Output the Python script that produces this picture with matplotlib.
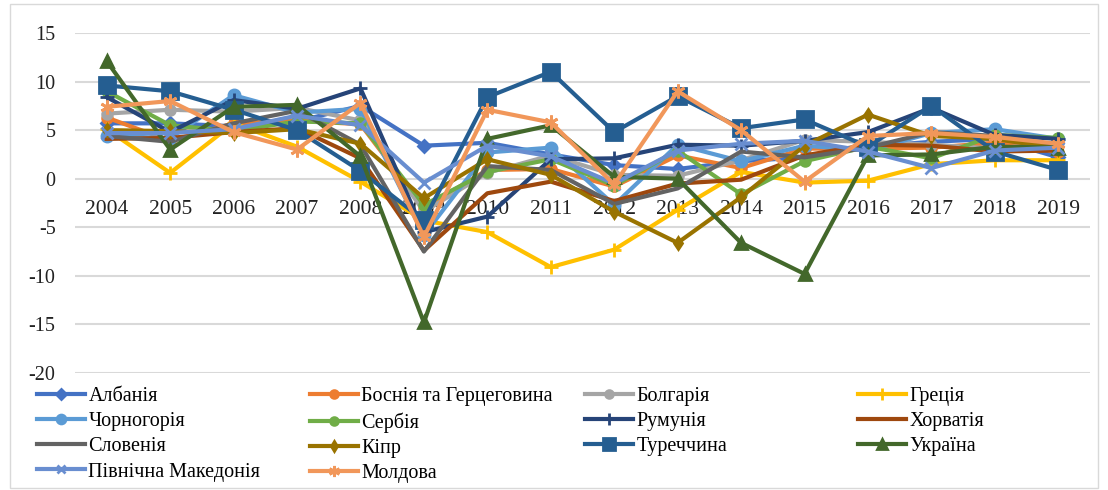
import numpy as np
import matplotlib
matplotlib.use("Agg")
import matplotlib.pyplot as plt
from matplotlib.patches import Rectangle

plt.rcParams["font.family"] = ["Liberation Serif", "DejaVu Serif"]
plt.rcParams["axes.unicode_minus"] = False

# GDP growth, %
years = [str(y) for y in range(2004, 2020)]

albania = [5.7, 5.7, 5.4, 5.9, 7.5, 3.4, 3.7, 2.5, 1.4, 1.0, 1.8, 2.2, 3.3, 3.8, 4.1, 2.2]
bosnia = [6.3, 3.9, 5.7, 6.0, 5.6, -3.0, 0.9, 1.0, -0.8, 2.4, 1.1, 3.1, 3.1, 3.2, 3.7, 2.8]
bulgaria = [6.7, 7.1, 6.9, 7.3, 6.0, -3.4, 0.6, 2.4, 0.4, 0.3, 1.9, 4.0, 3.8, 3.5, 3.1, 3.7]
greece = [5.1, 0.6, 5.7, 3.3, -0.3, -4.3, -5.5, -9.1, -7.3, -3.2, 0.7, -0.4, -0.2, 1.5, 1.9, 1.9]
montenegro = [4.4, 4.2, 8.6, 6.8, 7.2, -5.8, 2.7, 3.2, -2.7, 3.5, 1.8, 3.4, 2.9, 4.7, 5.1, 4.1]
serbia = [9.0, 5.5, 4.9, 5.9, 5.7, -2.7, 0.7, 2.0, -0.7, 2.9, -1.6, 1.8, 3.3, 2.1, 4.5, 4.2]
romania = [8.4, 4.8, 8.1, 7.2, 9.3, -5.5, -3.9, 2.0, 2.1, 3.5, 3.4, 3.9, 4.8, 7.3, 4.5, 4.1]
croatia = [4.1, 4.2, 4.8, 5.2, 2.1, -7.4, -1.5, -0.3, -2.3, -0.5, -0.1, 2.4, 3.5, 3.4, 2.8, 2.9]
slovenia = [4.4, 3.8, 5.7, 7.0, 3.5, -7.5, 1.3, 0.9, -2.6, -1.0, 2.8, 2.2, 3.2, 4.8, 4.4, 3.3]
cyprus = [5.0, 4.9, 4.7, 5.1, 3.6, -2.0, 2.0, 0.4, -3.4, -6.6, -1.9, 3.4, 6.6, 4.4, 4.1, 3.1]
turkey = [9.6, 9.0, 7.1, 5.0, 0.8, -4.3, 8.4, 11.0, 4.8, 8.5, 5.2, 6.1, 3.3, 7.5, 2.8, 0.9]
ukraine = [12.1, 3.0, 7.4, 7.6, 2.3, -14.8, 4.1, 5.5, 0.2, 0.0, -6.6, -9.8, 2.4, 2.5, 3.3, 3.2]
north_macedonia = [4.7, 4.7, 5.1, 6.5, 5.5, -0.4, 3.4, 2.3, -0.5, 2.9, 3.6, 3.9, 2.8, 1.1, 2.9, 3.2]
moldova = [7.4, 8.0, 4.8, 3.0, 7.8, -6.0, 7.1, 5.8, -0.6, 9.0, 5.0, -0.3, 4.4, 4.7, 4.3, 3.6]

# (label, values, colour, marker, marker size)
series = [
    ("Албанія", albania, "#4472C4", "D", 6),
    ("Боснія та Герцеговина", bosnia, "#ED7D31", "o", 7),
    ("Болгарія", bulgaria, "#A5A5A5", "o", 7),
    ("Греція", greece, "#FFC000", "+", 10),
    ("Чорногорія", montenegro, "#5B9BD5", "o", 8),
    ("Сербія", serbia, "#70AD47", "o", 7),
    ("Румунія", romania, "#264478", "+", 10),
    ("Хорватія", croatia, "#9E480E", "None", 0),
    ("Словенія", slovenia, "#636363", "None", 0),
    ("Кіпр", cyprus, "#997300", "d", 6),
    ("Туреччина", turkey, "#255E91", "s", 11),
    ("Україна", ukraine, "#43682B", "^", 9),
    ("Північна Македонія", north_macedonia, "#698ED0", "x", 8),
    ("Молдова", moldova, "#F1975A", (6, 2, 0), 10),
]

W, H = 1108, 490
fig = plt.figure(figsize=(W / 100, H / 100), dpi=100)
fig.patches.append(Rectangle((10 / W, 2 / H), 1088 / W, 484 / H, transform=fig.transFigure,
                             fill=False, edgecolor="#D9D9D9", linewidth=1))

ax = fig.add_axes([75 / W, 1 - 373 / H, (1090 - 75) / W, (373 - 33) / H])
x = np.arange(len(years))

handles = []
for label, vals, color, marker, ms in series:
    line, = ax.plot(x, vals, color=color, linewidth=3, marker=marker, markersize=ms,
                    markeredgewidth=2, markerfacecolor=color, markeredgecolor=color,
                    label=label, solid_joinstyle="round")
    handles.append(line)

ax.set_xlim(-0.5, len(years) - 0.5)
ax.set_ylim(-20, 15)
ax.set_yticks(range(-20, 16, 5))
ax.set_xticks(x)
ax.set_xticklabels(years)
ax.grid(axis="y", color="#D9D9D9", linewidth=1.5)
ax.set_axisbelow(True)
for s in ["top", "right", "left"]:
    ax.spines[s].set_visible(False)
ax.spines["bottom"].set_position(("data", 0))
ax.spines["bottom"].set_color("none")
ax.tick_params(axis="x", length=0, pad=15, labelsize=15.5, colors="#222222")
ax.tick_params(axis="y", length=0, pad=14, labelsize=14.5, colors="#222222")

# legend: four fixed-width columns, filled row by row
col_x = [37, 310, 585, 858]
for j, cx in enumerate(col_x):
    hs = handles[j::4]
    leg = fig.legend(hs, [h.get_label() for h in hs], loc="upper left",
                     bbox_to_anchor=(cx / W, 1 - 387 / H), frameon=False,
                     borderpad=0, borderaxespad=0, handlelength=2.4,
                     handletextpad=0.15, labelspacing=0.3, fontsize=14.5,
                     markerscale=0.8)

fig.savefig("out.png", dpi=100)
